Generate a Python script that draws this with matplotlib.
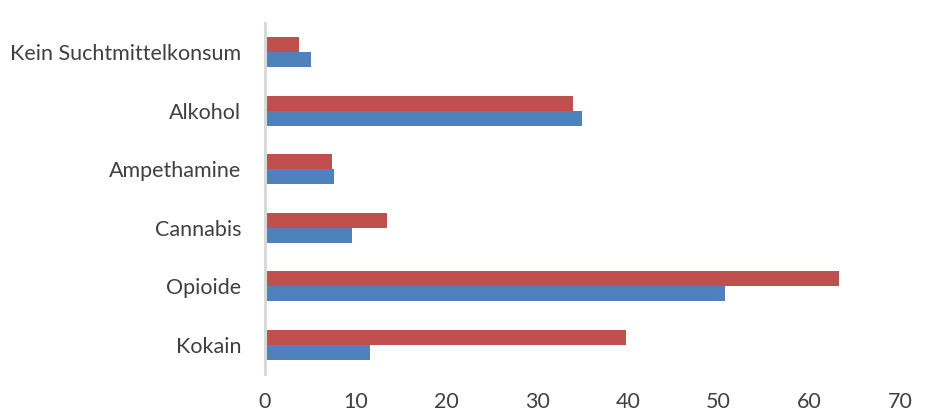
import matplotlib
matplotlib.use("Agg")
import matplotlib.pyplot as plt
import numpy as np

categories = ["Kokain", "Opioide", "Cannabis", "Ampethamine", "Alkohol", "Kein Suchtmittelkonsum"]
series_red = [39.8, 63.3, 13.5, 7.4, 33.9, 3.7]
series_blue = [11.6, 50.7, 9.6, 7.6, 35.0, 5.1]
xticks = [0, 10, 20, 30, 40, 50, 60, 70]

plt.rcParams['font.family'] = ['Lato', 'DejaVu Sans']
fig = plt.figure(figsize=(9.31, 4.19), dpi=100)
ax = fig.add_axes([0.2846, 0.1074, 0.6821, 0.8377])

y = np.arange(len(categories))
h = 0.255
ax.barh(y + h / 2, series_red, height=h, color="#C0504D")
ax.barh(y - h / 2, series_blue, height=h, color="#4F81BD")

ax.set_xlim(0, 70)
ax.set_ylim(-0.5, len(categories) - 0.5)
ax.set_xticks(xticks)
ax.set_xticklabels([str(t) for t in xticks])
ax.set_yticks(y)
ax.set_yticklabels(categories)
ax.tick_params(axis="both", length=0, labelsize=15.5, colors="#404040")
ax.tick_params(axis="y", pad=17)
ax.tick_params(axis="x", pad=13)
for s in ["top", "right", "bottom"]:
    ax.spines[s].set_visible(False)
ax.spines["left"].set_color("#D9D9D9")
ax.spines["left"].set_linewidth(2.2)

fig.savefig("out.png", dpi=100)
